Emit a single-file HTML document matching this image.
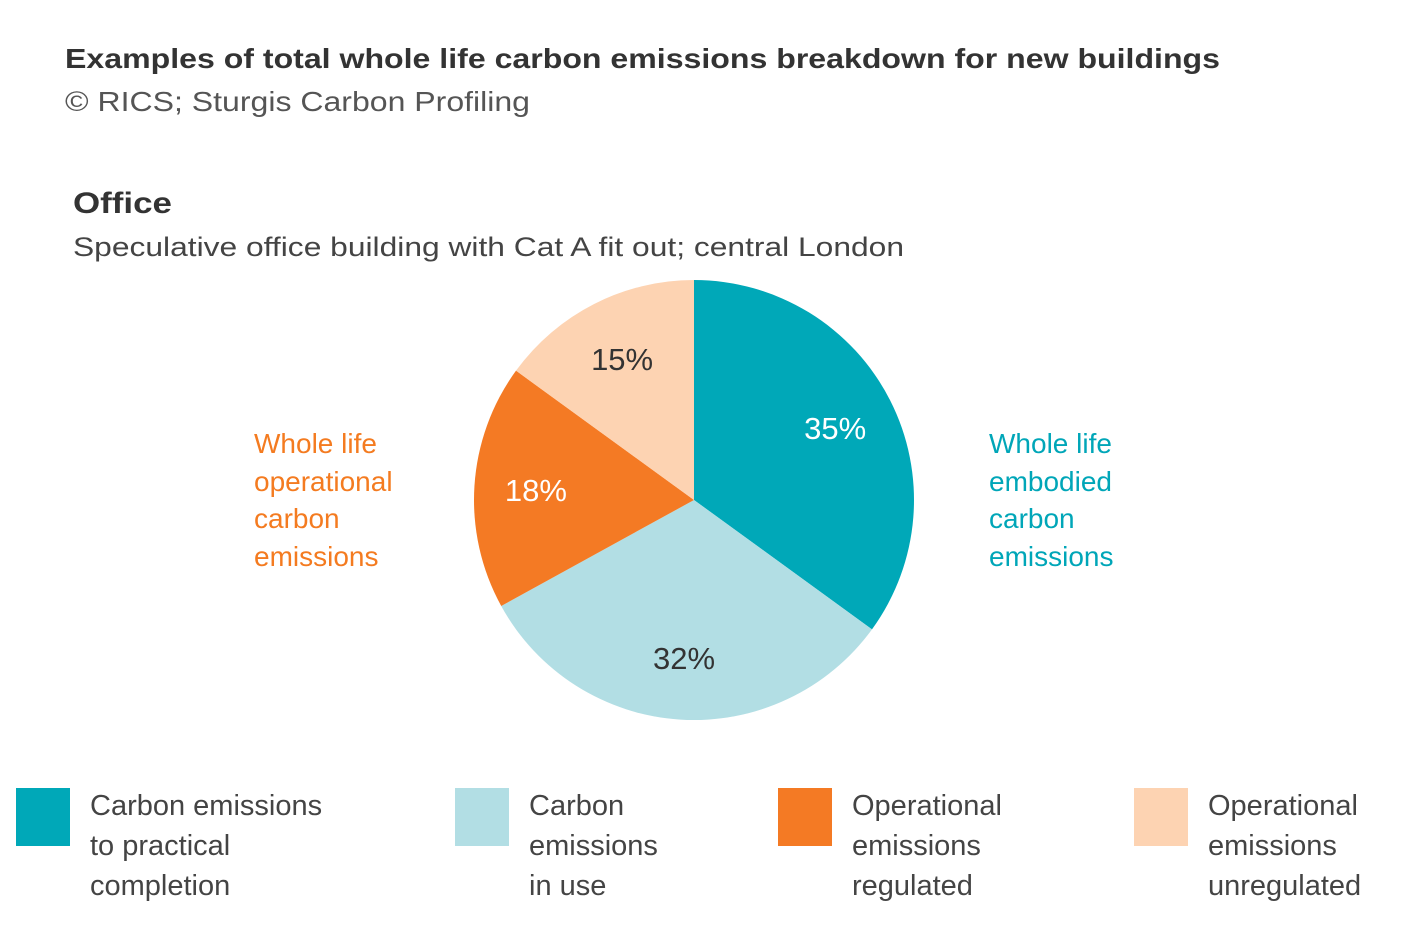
<!DOCTYPE html>
<html><head><meta charset="utf-8"><style>
html,body{margin:0;padding:0;background:#fff;}
svg{display:block;font-family:"Liberation Sans",sans-serif;}
</style></head><body>
<svg id="chart" width="1416" height="937" viewBox="0 0 1416 937">
<text x="65" y="68" font-size="28" font-weight="bold" fill="#333" textLength="1155" lengthAdjust="spacingAndGlyphs">Examples of total whole life carbon emissions breakdown for new buildings</text>
<text x="65" y="111" font-size="28" fill="#555" textLength="465" lengthAdjust="spacingAndGlyphs">©  RICS; Sturgis Carbon Profiling</text>
<text x="73" y="213" font-size="30" font-weight="bold" fill="#333" textLength="99" lengthAdjust="spacingAndGlyphs">Office</text>
<text x="73" y="256" font-size="27" fill="#444" textLength="831" lengthAdjust="spacingAndGlyphs">Speculative office building with Cat A fit out; central London</text>
<g id="slices"></g>
<g id="labels"></g>
<g font-size="28" fill="#F47B20">
<text x="254" y="453">Whole life</text><text x="254" y="491">operational</text><text x="254" y="528">carbon</text><text x="254" y="566">emissions</text></g>
<g font-size="28" fill="#00A6B8">
<text x="989" y="453">Whole life</text><text x="989" y="491">embodied</text><text x="989" y="528">carbon</text><text x="989" y="566">emissions</text></g>
<g id="legend"></g>
</svg>
<script>
const categories = ["Carbon emissions to practical completion","Carbon emissions in use","Operational emissions regulated","Operational emissions unregulated"];
const values = [35, 32, 18, 15];
const valueLabels = ["35%","32%","18%","15%"];
const colors = ["#00A8B8","#B2DEE4","#F47A24","#FDD3B2"];
const labelColors = ["#fff","#333","#fff","#333"];
const legendLines = [["Carbon emissions","to practical","completion"],["Carbon","emissions","in use"],["Operational","emissions","regulated"],["Operational","emissions","unregulated"]];
const NS="http://www.w3.org/2000/svg";
const cx=694, cy=500, r=220;
const total=values.reduce((a,b)=>a+b,0);
function pt(a,rad){return [cx+rad*Math.sin(a), cy-rad*Math.cos(a)];}
let acc=0;
const sg=document.getElementById('slices'), lg=document.getElementById('labels');
values.forEach((v,i)=>{
  const a0=acc/total*2*Math.PI; acc+=v; const a1=acc/total*2*Math.PI;
  const p0=pt(a0,r), p1=pt(a1,r);
  const path=document.createElementNS(NS,'path');
  path.setAttribute('d',`M${cx},${cy}L${p0[0]},${p0[1]}A${r},${r} 0 ${a1-a0>Math.PI?1:0} 1 ${p1[0]},${p1[1]}Z`);
  path.setAttribute('fill',colors[i]);
  
  
  sg.appendChild(path);
  const m=(a0+a1)/2, lp=pt(m,r*0.72);
  const t=document.createElementNS(NS,'text');
  t.setAttribute('x',lp[0]); t.setAttribute('y',lp[1]+11);
  t.setAttribute('text-anchor','middle'); t.setAttribute('font-size','31');
  t.setAttribute('fill',labelColors[i]); t.textContent=valueLabels[i];
  
  
  lg.appendChild(t);
});
const leg=document.getElementById('legend');
const lx=[16,455,778,1134];
categories.forEach((c,i)=>{
  const g=document.createElementNS(NS,'g');
  
  
  const rc=document.createElementNS(NS,'rect');
  rc.setAttribute('x',lx[i]); rc.setAttribute('y',788); rc.setAttribute('width',54); rc.setAttribute('height',58);
  rc.setAttribute('fill',colors[i]);
  
  
  g.appendChild(rc);
  legendLines[i].forEach((ln,j)=>{
    const t=document.createElementNS(NS,'text');
    t.setAttribute('x',lx[i]+74); t.setAttribute('y',815+j*40);
    t.setAttribute('font-size','29'); t.setAttribute('fill','#444'); t.textContent=ln;
    
    
    g.appendChild(t);
  });
  leg.appendChild(g);
});
</script>
</body></html>
